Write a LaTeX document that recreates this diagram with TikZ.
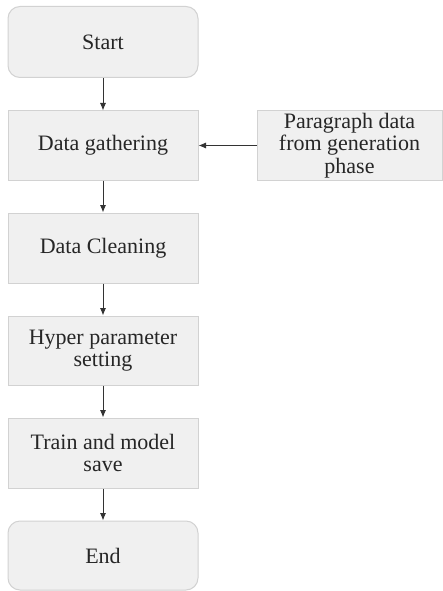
\documentclass[tikz,border=0pt]{standalone}
\usepackage{fontspec}
\setmainfont{Liberation Serif}
\usetikzlibrary{arrows.meta}
\definecolor{boxfill}{HTML}{F0F0F0}
\definecolor{boxline}{HTML}{D2D2D2}
\definecolor{arr}{HTML}{333333}
\begin{document}
\begin{tikzpicture}[x=1pt,y=-1pt,
  box/.style={draw=boxline,fill=boxfill,line width=1pt,minimum width=190pt,minimum height=69pt,
    align=center,font=\fontsize{22}{22.5}\selectfont,text=black!85,inner sep=2pt},
  term/.style={box,rounded corners=12pt,minimum height=71pt},
  conn/.style={draw=arr,line width=0.8pt,-{Latex[length=7.5pt,width=6pt]}}]
\useasboundingbox (0,0) rectangle (442,591);
\node[term] (start) at (103,42) {Start};
\node[box] (gather) at (103,145.5) {Data gathering};
\node[box,minimum width=185pt] (para) at (349.5,145.5) {Paragraph data\\from generation\\phase};
\node[box,minimum height=70pt] (clean) at (103,248) {Data Cleaning};
\node[box] (hyper) at (103,350.5) {Hyper parameter\\setting};
\node[box,minimum height=70pt] (train) at (103,453) {Train and model\\save};
\node[term,minimum height=69pt] (end) at (103,555.5) {End};
\draw[conn] (start) -- (gather);
\draw[conn] (para) -- (gather);
\draw[conn] (gather) -- (clean);
\draw[conn] (clean) -- (hyper);
\draw[conn] (hyper) -- (train);
\draw[conn] (train) -- (end);
\end{tikzpicture}
\end{document}
